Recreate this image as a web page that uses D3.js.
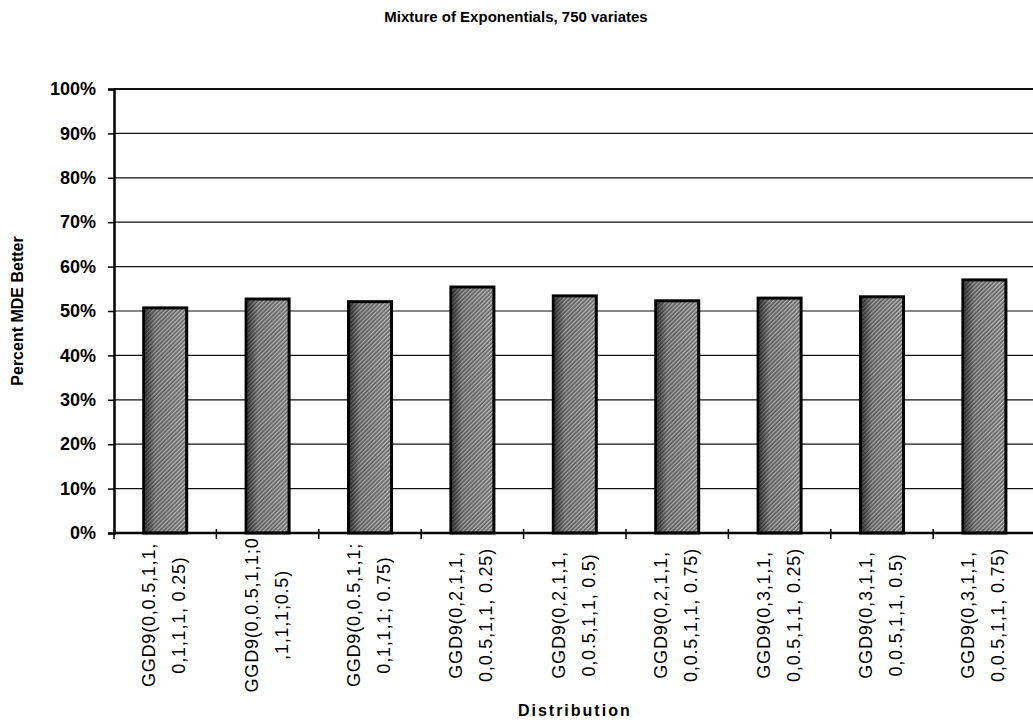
<!DOCTYPE html>
<html>
<head>
<meta charset="utf-8">
<script src="https://cdn.jsdelivr.net/npm/d3@7"></script>
<style>
  body { margin: 0; background: #fff; }
  svg { display: block; font-family: "Liberation Sans", Arial, sans-serif; }
</style>
</head>
<body>
<svg id="chart"></svg>
<script>
// data
var categories = [
  ["GGD9(0,0.5,1,1,", "0,1,1,1, 0.25)"],
  ["GGD9(0,0.5,1,1;0", ",1,1,1;0.5)"],
  ["GGD9(0,0.5,1,1;", "0,1,1,1; 0.75)"],
  ["GGD9(0,2,1,1,", "0,0.5,1,1, 0.25)"],
  ["GGD9(0,2,1,1,", "0,0.5,1,1, 0.5)"],
  ["GGD9(0,2,1,1,", "0,0.5,1,1, 0.75)"],
  ["GGD9(0,3,1,1,", "0,0.5,1,1, 0.25)"],
  ["GGD9(0,3,1,1,", "0,0.5,1,1, 0.5)"],
  ["GGD9(0,3,1,1,", "0,0.5,1,1, 0.75)"]
];
var percentBetter = [50.7, 52.7, 52.1, 55.4, 53.4, 52.3, 52.9, 53.2, 57.0];
var yTicks = [0, 10, 20, 30, 40, 50, 60, 70, 80, 90, 100];

var W = 1033, H = 728;
var margin = {top: 89, left: 114, bottom: 195};
var plotRight = 114 + 9 * 102.4;

var svg = d3.select("#chart").attr("width", W).attr("height", H);

// hatch fill for the bars
var defs = svg.append("defs");
var pat = defs.append("pattern")
  .attr("id", "hatch")
  .attr("patternUnits", "userSpaceOnUse")
  .attr("width", 3).attr("height", 3)
  .attr("patternTransform", "rotate(45)");
pat.append("rect").attr("width", 3).attr("height", 3).attr("fill", "#666");
pat.append("rect").attr("width", 1.3).attr("height", 3).attr("fill", "#c4c4c4");

var grad = defs.append("linearGradient").attr("id", "shade");
grad.append("stop").attr("offset", "0%").attr("stop-color", "#000").attr("stop-opacity", 0.6);
grad.append("stop").attr("offset", "25%").attr("stop-color", "#000").attr("stop-opacity", 0.15);
grad.append("stop").attr("offset", "100%").attr("stop-color", "#000").attr("stop-opacity", 0);

var idx = d3.range(categories.length);
var x = d3.scaleBand()
  .domain(idx)
  .range([margin.left, plotRight])
  .paddingInner(0.58)
  .paddingOuter(0.29);

var y = d3.scaleLinear()
  .domain([0, 100])
  .range([H - margin.bottom, margin.top]);

// gridlines
svg.append("g").selectAll("line")
  .data(yTicks.slice(1))
  .enter().append("line")
    .attr("x1", margin.left).attr("x2", W)
    .attr("y1", function(d) { return y(d); })
    .attr("y2", function(d) { return y(d); })
    .attr("stroke", "#111")
    .attr("stroke-width", function(d) { return d == 100 ? 2 : 1.2; });

// y axis
var yAxis = svg.append("g")
  .attr("transform", "translate(" + margin.left + ",0)")
  .call(d3.axisLeft(y).tickValues(yTicks).tickSize(6).tickPadding(12)
    .tickFormat(function(d) { return d + "%"; }));
yAxis.select(".domain").attr("stroke", "#000").attr("stroke-width", 2.5);
yAxis.selectAll(".tick line").attr("stroke", "#000").attr("stroke-width", 1.5);
yAxis.selectAll(".tick text")
  .attr("font-size", 18).attr("font-weight", "bold").attr("fill", "#000")
  .attr("font-family", "Liberation Sans, Arial, sans-serif");

// bars
var bars = svg.append("g");
bars.selectAll("rect.bar")
  .data(percentBetter)
  .enter().append("rect")
    .attr("class", "bar")
    .attr("x", function(d, i) { return x(i); })
    .attr("width", x.bandwidth())
    .attr("y", function(d) { return y(d); })
    .attr("height", function(d) { return y(0) - y(d); })
    .attr("fill", "url(#hatch)")
    .attr("stroke", "#000")
    .attr("stroke-width", 3);
bars.selectAll("rect.shade")
  .data(percentBetter)
  .enter().append("rect")
    .attr("class", "shade")
    .attr("x", function(d, i) { return x(i) + 1.5; })
    .attr("width", x.bandwidth() - 3)
    .attr("y", function(d) { return y(d) + 1.5; })
    .attr("height", function(d) { return y(0) - y(d) - 3; })
    .attr("fill", "url(#shade)");

// x axis line with ticks at band edges
var step = x.step();
svg.append("line")
  .attr("x1", margin.left).attr("x2", W)
  .attr("y1", y(0)).attr("y2", y(0))
  .attr("stroke", "#000").attr("stroke-width", 2.5);
svg.append("g").selectAll("line")
  .data(d3.range(categories.length + 1))
  .enter().append("line")
    .attr("x1", function(d) { return margin.left + d * step; })
    .attr("x2", function(d) { return margin.left + d * step; })
    .attr("y1", y(0) - 4).attr("y2", y(0) + 6)
    .attr("stroke", "#000").attr("stroke-width", 1.5);

// category labels, rotated, two lines
var labels = svg.append("g").selectAll("text")
  .data(categories)
  .enter().append("text")
    .attr("transform", function(d, i) {
      return "translate(" + (x(i) + x.bandwidth() / 2) + ",615) rotate(-90)";
    })
    .attr("text-anchor", "middle")
    .attr("font-size", 18)
    .attr("letter-spacing", 0.8)
    .attr("fill", "#000");
labels.selectAll("tspan")
  .data(function(d) { return d; })
  .enter().append("tspan")
    .attr("x", 0)
    .attr("y", function(d, j) { return j == 0 ? -10 : 20; })
    .text(function(d) { return d; });

// titles
svg.append("text")
  .attr("x", 516).attr("y", 22)
  .attr("text-anchor", "middle")
  .attr("font-size", 15).attr("font-weight", "bold")
  .text("Mixture of Exponentials, 750 variates");

svg.append("text")
  .attr("transform", "translate(23," + y(50) + ") rotate(-90)")
  .attr("text-anchor", "middle")
  .attr("font-size", 16).attr("font-weight", "bold")
  .text("Percent MDE Better");

svg.append("text")
  .attr("x", (margin.left + plotRight) / 2).attr("y", 716)
  .attr("text-anchor", "middle")
  .attr("font-size", 16).attr("font-weight", "bold")
  .attr("letter-spacing", 2)
  .text("Distribution");
</script>
</body>
</html>
